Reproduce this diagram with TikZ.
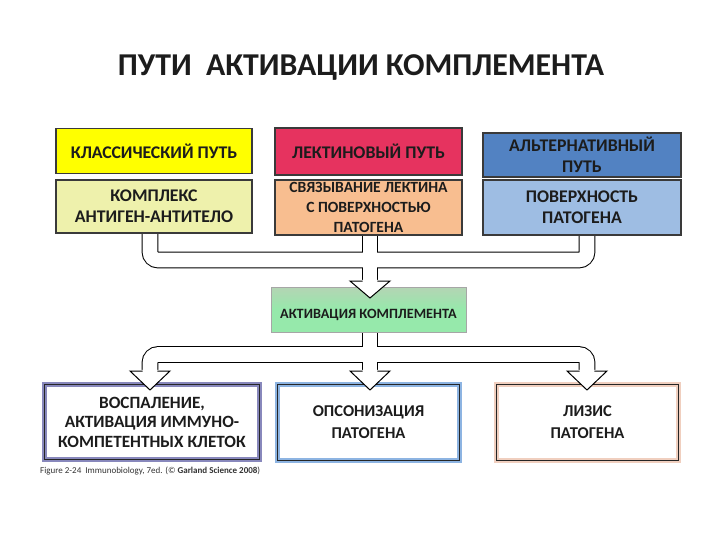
\documentclass[tikz,border=0pt]{standalone}
\usepackage{fontspec}
\setmainfont{Carlito}
\usetikzlibrary{calc}
\definecolor{txt}{HTML}{1C1C1C}
\definecolor{edge}{HTML}{3A3A3A}
\definecolor{cyel}{HTML}{FFFF00}
\definecolor{cyel2}{HTML}{EEF1AC}
\definecolor{ccrim}{HTML}{E6335F}
\definecolor{cpeach}{HTML}{F8BE90}
\definecolor{cblue}{HTML}{5282C2}
\definecolor{cblue2}{HTML}{9EBDE3}
\definecolor{cgreenT}{HTML}{B4D4B4}
\definecolor{cgreenB}{HTML}{96E9AB}
\definecolor{cpurp}{HTML}{8888BC}
\definecolor{cframeblue}{HTML}{8DB4E2}
\definecolor{cframepeach}{HTML}{F0CFBF}
\begin{document}
\begin{tikzpicture}[x=1pt,y=-1pt,
  topbox/.style={draw=edge, line width=1.6pt, align=center, text=txt, inner sep=0pt,
    font=\bfseries\fontsize{17.8}{21}\selectfont},
  framebox/.style={line width=5pt, fill=white, align=center, text=txt, inner sep=0pt,
    font=\bfseries\fontsize{16.5}{22}\selectfont},
  innerline/.style={draw=black!85, line width=0.9pt},
  pipeout/.style={draw=black, line width=16.6pt, rounded corners=8pt},
  pipein/.style={draw=white, line width=14.6pt, rounded corners=8pt},
  headline/.style={draw=black, line width=1pt, line join=miter},
]
\fill[white] (0,0) rectangle (720,540);
\useasboundingbox (0,0) rectangle (720,540);

% title
\node[font=\bfseries\fontsize{31.8}{36}\selectfont, text=txt] (title) at (361,68) {ПУТИ\ \ АКТИВАЦИИ КОМПЛЕМЕНТА};

% pipe coordinates
\coordinate (a1) at (150,234);
\coordinate (a2) at (370,234);
\coordinate (a3) at (587,234);
\coordinate (ajL) at (150,260);
\coordinate (ajR) at (587,260);
\coordinate (am) at (370,281);
\coordinate (b0) at (370,333);
\coordinate (bjL) at (150,354.5);
\coordinate (bjR) at (587,354.5);
\coordinate (b1) at (150,371);
\coordinate (b2) at (370,371);
\coordinate (b3) at (587,371);

% pipes
\foreach \st in {pipeout,pipein}{
  \draw[\st] (a1) -- (ajL) -- (ajR) -- (a3);
  \draw[\st] (a2) -- (am);
  \draw[\st] (b1) -- (bjL) -- (bjR) -- (b3);
  \draw[\st] (b0) -- (b2);
}

% top row
\node[topbox, fill=cyel, minimum width=196pt, minimum height=45pt] (cl) at (154,151) {КЛАССИЧЕСКИЙ ПУТЬ};
\node[topbox, fill=ccrim, minimum width=187pt, minimum height=47pt] (lec) at (368.5,151.5) {ЛЕКТИНОВЫЙ ПУТЬ};
\node[topbox, fill=cblue, minimum width=198pt, minimum height=44pt] (alt) at (582,155) {АЛЬТЕРНАТИВНЫЙ\\ПУТЬ};
% second row
\node[topbox, fill=cyel2, minimum width=196pt, minimum height=53pt] (cl2) at (154,206.5) {КОМПЛЕКС\\АНТИГЕН-АНТИТЕЛО};
\node[topbox, fill=cpeach, minimum width=187pt, minimum height=55pt, font=\bfseries\fontsize{15.6}{20}\selectfont] (lec2) at (368.5,207.5) {СВЯЗЫВАНИЕ ЛЕКТИНА\\С ПОВЕРХНОСТЬЮ\\ПАТОГЕНА};
\node[topbox, fill=cblue2, minimum width=198pt, minimum height=55pt] (alt2) at (582,207.5) {ПОВЕРХНОСТЬ\\ПАТОГЕНА};

% green box
\node[draw=black!35, line width=0.8pt, top color=cgreenT, bottom color=cgreenB, middle color=cgreenB,
  minimum width=195pt, minimum height=45pt, inner sep=0pt] (act) at (368.5,309.5) {};
\node[text=txt, font=\bfseries\fontsize{14.2}{16}\selectfont, inner sep=0pt] (acttxt) at ($(act.center)+(0,5.5)$) {АКТИВАЦИЯ КОМПЛЕМЕНТА};

% bottom boxes
\node[framebox, draw=cpurp, minimum width=215pt, minimum height=75pt, font=\bfseries\fontsize{17.2}{19.5}\selectfont] (inf) at (152,422) {ВОСПАЛЕНИЕ,\\АКТИВАЦИЯ ИММУНО-\\КОМПЕТЕНТНЫХ КЛЕТОК};
\node[framebox, draw=cframeblue, minimum width=182pt, minimum height=76pt] (ops) at (368.5,422.5) {ОПСОНИЗАЦИЯ\\ПАТОГЕНА};
\node[framebox, draw=cframepeach, minimum width=182pt, minimum height=76pt] (lys) at (587.5,422.5) {ЛИЗИС\\ПАТОГЕНА};
\foreach \n in {inf,ops,lys}{
  \draw[innerline] ($(\n.south west)+(2.8,-2.8)$) rectangle ($(\n.north east)+(-2.8,2.8)$);
}

% arrowheads
\foreach \c/\h in {am/17, b1/19, b2/19, b3/19}{
  \begin{scope}[shift={(\c)}]
    \fill[white] (-20,-1.2) -- (20,-1.2) -- (0,\h) -- cycle;
    \draw[headline] (-7.3,0) -- (-20,0) -- (0,\h) -- (20,0) -- (7.3,0);
  \end{scope}
}

% caption
\node[anchor=west, font=\fontsize{9}{11}\selectfont, text=black!80, inner sep=0pt] (cap) at (40,471)
  {Figure 2-24\ \ Immunobiology, 7ed. (© \textbf{Garland Science 2008})};
\end{tikzpicture}
\end{document}
